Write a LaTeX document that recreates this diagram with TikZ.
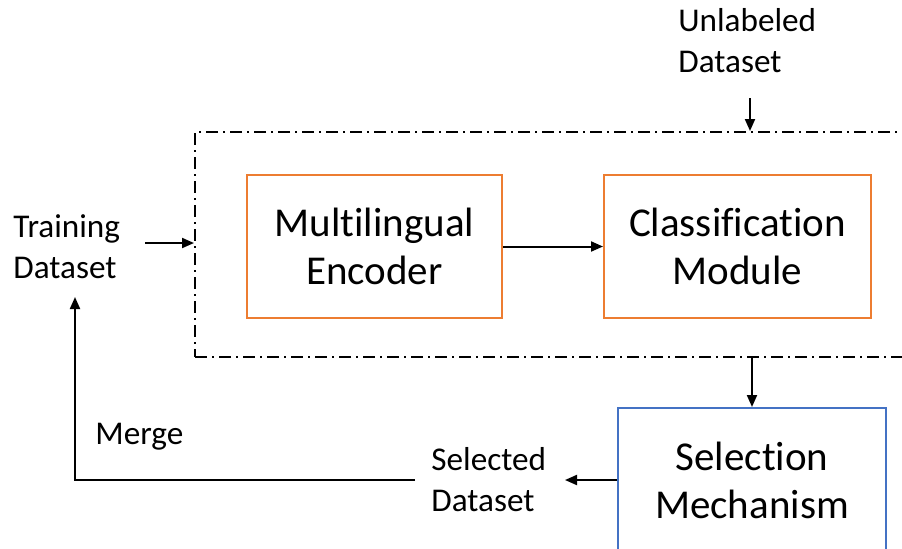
\documentclass[tikz,border=0pt]{standalone}
\usepackage{fontspec}
\setmainfont{Carlito}[Ligatures=NoCommon]
\usetikzlibrary{arrows.meta}
\definecolor{boxorange}{HTML}{ED7D31}
\definecolor{boxblue}{HTML}{4472C4}

\begin{document}
\begin{tikzpicture}[x=0.5pt,y=-0.5pt,
 >={Triangle[length=6pt,width=5pt]},
 block/.style={draw,line width=1pt,align=center,inner sep=0pt,
  font=\fontsize{20.5}{24}\selectfont},
 label text/.style={align=left,inner sep=0pt,
  font=\fontsize{16.6}{20.5}\selectfont},
 frame box/.style={draw,line width=1pt,
  dash pattern=on 6pt off 2.5pt on 1pt off 2.5pt}]
 \useasboundingbox (0,0) rectangle (902,548);
 % dash-dot container, open to the right
 \node[frame box,minimum width=357.5pt,minimum height=112.5pt] (frame)
  at (552.5,244.5) {};
 \node[block,boxorange,text=black,minimum width=127.5pt,minimum height=71.5pt]
  (enc) at (374.5,246.5) {Multilingual\\Encoder};
 \node[block,boxorange,text=black,minimum width=133.5pt,minimum height=71.5pt]
  (cls) at (737.5,246.5) {Classification\\Module};
 \node[block,boxblue,text=black,minimum width=134pt,minimum height=72pt]
  (sel) at (752,480) {Selection\\Mechanism};
 \node[label text,anchor=west] (train) at (13,247) {Training\\Dataset};
 \node[label text,anchor=west] (unlab) at (678,41) {Unlabeled\\Dataset};
 \node[label text,anchor=west] (selds) at (431,480) {Selected\\Dataset};
 \node[label text,anchor=west] (merge) at (95,437) {Merge};
 \coordinate (unlabend) at (750,98);
 \coordinate (trainend) at (145,243);
 \coordinate (mergestart) at (415,480);
 \coordinate (mergeup) at (75,297);
 % connectors
 \draw[->,line width=1pt] (trainend) -- (trainend -| frame.west);
 \draw[->,line width=1pt] (unlabend) -- (unlabend |- frame.north);
 \draw[->,line width=1pt] (enc) -- (cls);
 \draw[->,line width=1pt] (sel.north |- frame.south) -- (sel.north);
 \draw[->,line width=1pt] (sel.west) -- ([xshift=-26pt]sel.west);
 \draw[->,line width=1pt] (mergestart) -| (mergeup);
\end{tikzpicture}
\end{document}
